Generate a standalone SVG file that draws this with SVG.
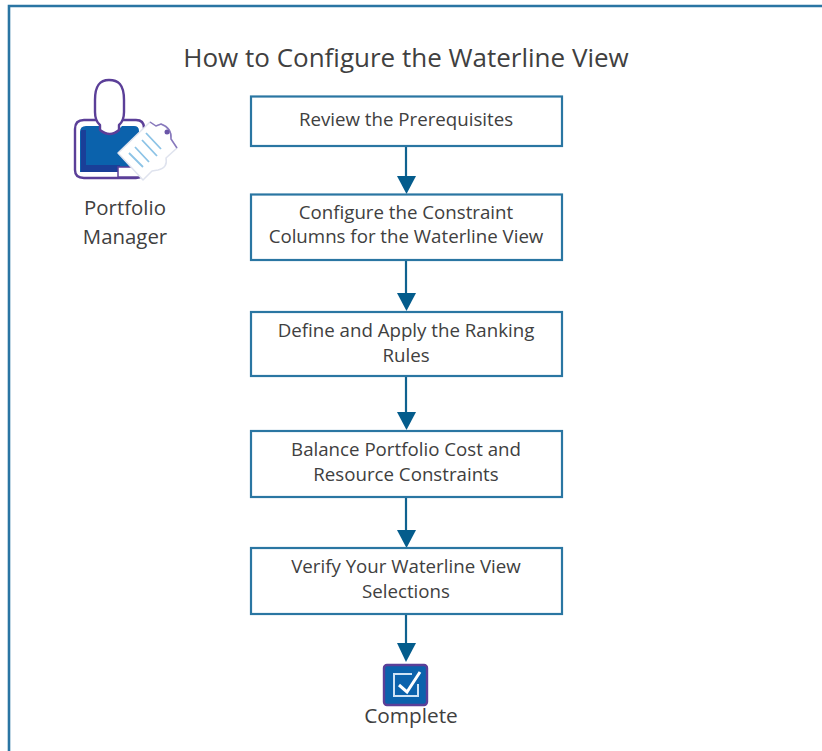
<svg xmlns="http://www.w3.org/2000/svg" width="822" height="751" viewBox="0 0 822 751">
<defs>
<style>
text{font-family:"Open Sans","Noto Sans","Liberation Sans",sans-serif;fill:#404040;text-anchor:middle;font-size:18.7px}
.box{fill:#fff;stroke:#2a76a2;stroke-width:2.2}
.conn{stroke:#0f628f;stroke-width:2.2;fill:none}
.p{stroke:#5b3f98;stroke-width:2.4;stroke-linejoin:round}
.tip{fill:#045c8c}
</style>
</defs>
<rect width="822" height="751" fill="#fff"/>
<path d="M9 751V6H822" fill="none" stroke="#2a75a3" stroke-width="2.6"/>
<text x="406" y="67" style="font-size:26px">How to Configure the Waterline View</text>
<g id="connectors">
<path class="conn" d="M406 146V178"/><path class="tip" d="M397 176H416L406.500 194Z"/>
<path class="conn" d="M406 260V295"/><path class="tip" d="M397 293H416L406.500 311Z"/>
<path class="conn" d="M406 376V414"/><path class="tip" d="M397 412H416L406.500 430Z"/>
<path class="conn" d="M406 497V532"/><path class="tip" d="M397 530H416L406.500 548Z"/>
<path class="conn" d="M406 614V648"/><path class="tip" d="M397 643H416L406 662Z"/>
</g>
<g id="n1"><rect class="box" x="251" y="96.500" width="311" height="49.500"/><text x="406" y="126">Review the Prerequisites</text></g>
<g id="n2"><rect class="box" x="251" y="194.500" width="311" height="65.500"/><text x="406" y="219">Configure the Constraint</text><text x="406" y="243">Columns for the Waterline View</text></g>
<g id="n3"><rect class="box" x="251" y="312" width="311" height="64"/><text x="406" y="337">Define and Apply the Ranking</text><text x="406" y="362">Rules</text></g>
<g id="n4"><rect class="box" x="251" y="431" width="311" height="66"/><text x="406" y="456">Balance Portfolio Cost and</text><text x="406" y="481">Resource Constraints</text></g>
<g id="n5"><rect class="box" x="251" y="548" width="311" height="66"/><text x="406" y="573">Verify Your Waterline View</text><text x="406" y="598">Selections</text></g>
<g id="portfolio-manager">
<path d="M75 129Q75 120 84 120H136Q144 120 144 128V170Q144 178 136 178H84Q75 178 75 170Z" fill="#fff" class="p"/>
<path d="M80 132Q80 126 86 126H99Q110 140 122 126H134Q139 126 139 131V172H80Z" fill="#0b62ac"/>
<path d="M81 130H86V165H120V172H81Z" fill="#1a3f98"/>
<rect x="118" y="167" width="24" height="10" fill="#fff" stroke="#5b3f98" stroke-width="1.500"/>
<path d="M95 100C95 84 101 80 109 80C118 80 124 84 124 100V112Q124 121 119 125V130Q110 138 100 130V125Q95 121 95 112Z" fill="#fff" class="p"/>
<path d="M118 153L150 122L156 126L161 124Q172 128 171 139L177 148L166 158Q168 168 158 170L152 171L143 180Z" fill="#fff" stroke="#dfe3ee" stroke-width="1.500" stroke-linejoin="round"/>
<path d="M150 122L156 126L161 124Q172 128 171 139L177 148" fill="none" stroke="#8878bc" stroke-width="1.500"/>
<path d="M129 153L143 167M135 147L149 162M142 140L157 156M146 133L161 149" stroke="#8cc3e6" stroke-width="1.800" fill="none"/>
<circle cx="167" cy="132" r="2.500" fill="#6a55a8"/>
<text x="125" y="215" style="font-size:20.400px">Portfolio</text><text x="125" y="244" style="font-size:20.400px">Manager</text>
</g>
<g id="complete">
<rect x="384" y="665" width="43" height="40" rx="3" fill="#0b62ac" stroke="#5b3f98" stroke-width="2.400"/>
<path d="M412 674H394V696H418V684" fill="none" stroke="#cfe3f5" stroke-width="2"/>
<path d="M399 685L407 692L420 672" fill="none" stroke="#fff" stroke-width="3"/>
<text x="411" y="723" style="font-size:20.800px">Complete</text>
</g>
</svg>
